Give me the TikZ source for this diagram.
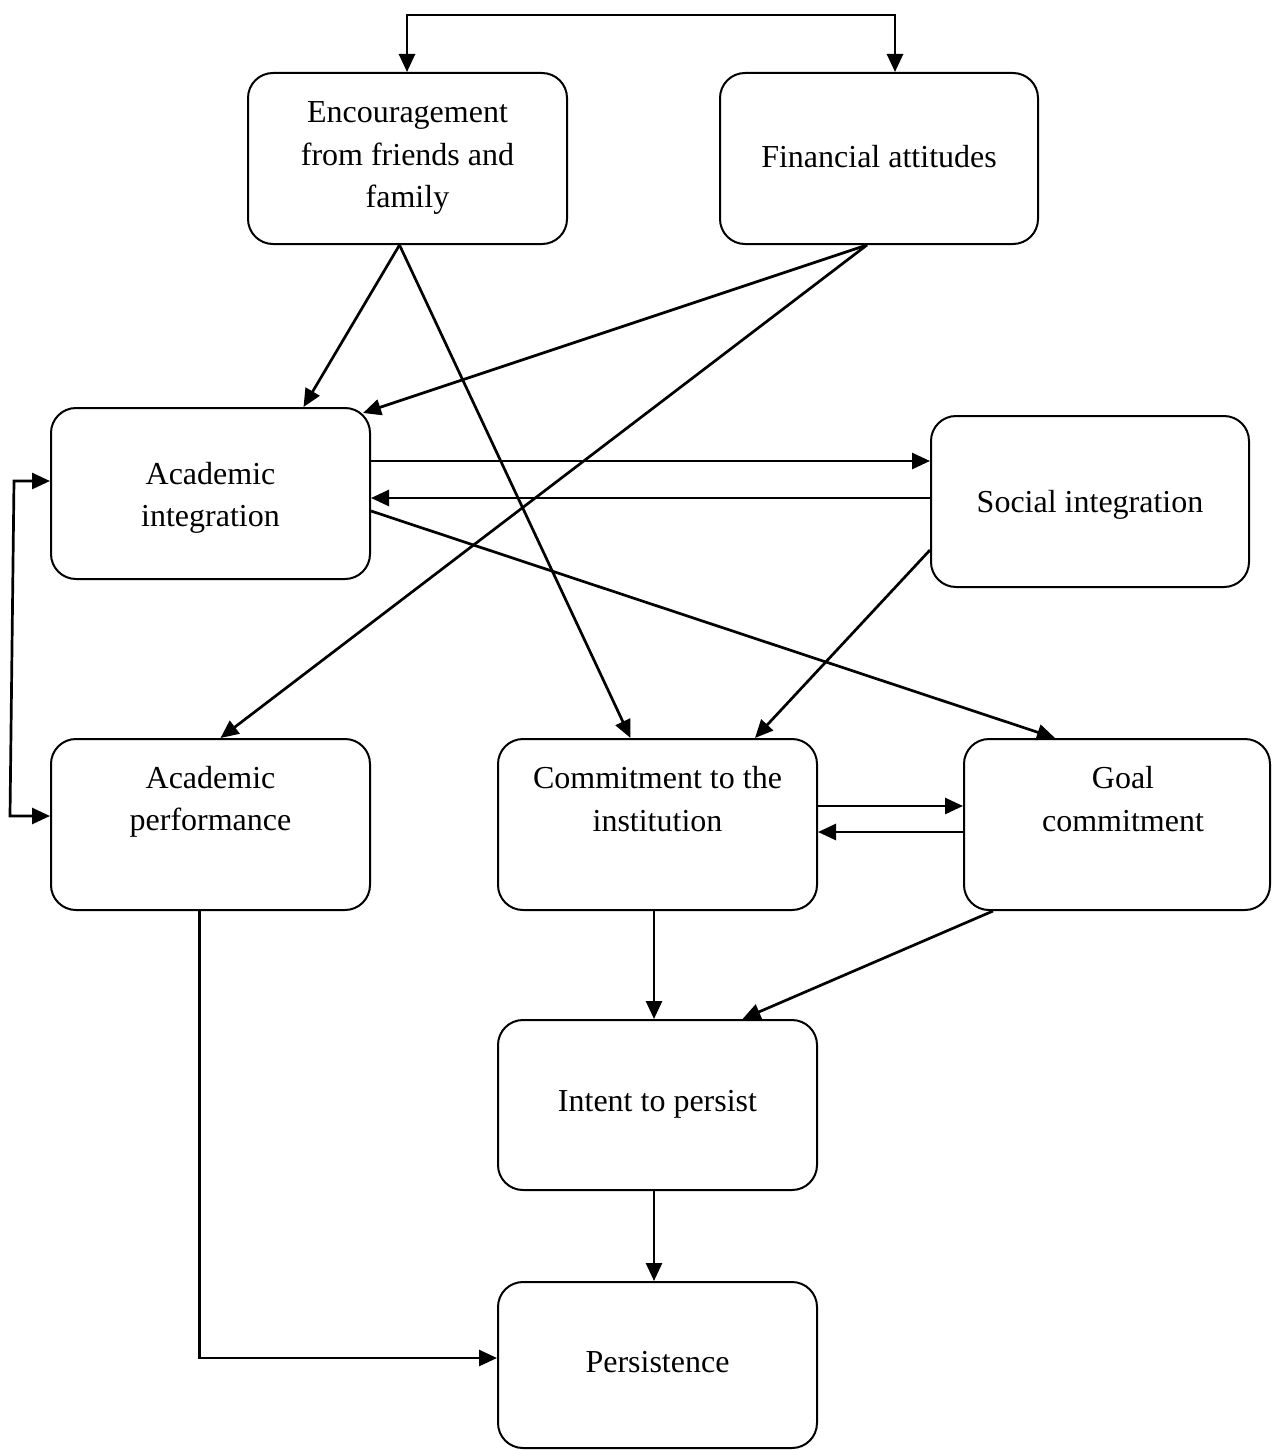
\documentclass[tikz,border=0pt]{standalone}
\usepackage{fontspec}
\setmainfont{Liberation Serif}
\usetikzlibrary{arrows.meta}
\begin{document}
\begin{tikzpicture}[x=1pt,y=-1pt,
  box/.style={draw, line width=2pt, rounded corners=25pt, minimum width=319pt,
    minimum height=171pt, inner sep=0pt},
  txt/.style={align=center, font=\fontsize{32}{42.5}\selectfont, inner sep=0pt},
  tip/.style={Triangle[length=18pt,width=16pt]},
  conn/.style={line width=2.7pt, -{Triangle[length=18pt,width=16pt]}},
  both/.style={line width=2.7pt, {Triangle[length=18pt,width=16pt]}-{Triangle[length=18pt,width=16pt]}}]
\useasboundingbox (0,0) rectangle (1271,1450);
\begin{scope}
\clip (0,0) rectangle (1271,1450);

% boxes
\node[box] (enc) at (407.5,158.5) {};
\node[txt] (enct) at (407.5,158) {Encouragement\\from friends and\\family};
\node[box, minimum width=318pt] (fin) at (879,158.5) {};
\node[txt] (fint) at (879,157) {Financial attitudes};
\node[box] (acint) at (210.5,493.5) {};
\node[txt] (acintt) at (210.5,498) {Academic\\integration};
\node[box, minimum width=318pt] (soc) at (1090,501.5) {};
\node[txt] (soct) at (1090,505) {Social integration};
\node[box] (acperf) at (210.5,824.5) {};
\node[txt] (acperft) at (210.5,802) {Academic\\performance};
\node[box] (comm) at (657.5,824.5) {};
\node[txt] (commt) at (657.5,799) {Commitment to the\\institution};
\node[box, minimum width=306pt] (goal) at (1117,824.5) {};
\node[txt] (goalt) at (1123,799) {Goal\\commitment};
\node[box, minimum height=170pt] (intent) at (657.5,1105) {};
\node[txt] (intentt) at (657.5,1104) {Intent to persist};
\node[box, minimum height=166pt] (pers) at (657.5,1365) {};
\node[txt] (perst) at (657.5,1362) {Persistence};

% top bracket between the two background factors
\coordinate (top) at (0,15);
\draw[both] ([xshift=-0.5pt]enc.north) -- ([xshift=-0.5pt]enc.north |- top)
  -| ([xshift=16pt]fin.north);

% left bracket between academic integration and performance
\coordinate (lbtop) at (14,481);
\coordinate (lbbot) at (10,816);
\draw[both] ([yshift=12.5pt]acint.west) -- (lbtop) -- (lbbot) -- ([yshift=8.5pt]acperf.west);

% background factors
\draw[conn] ([xshift=-8pt]enc.south) -- ([xshift=93pt]acint.north);
\draw[conn] ([xshift=-8pt]enc.south) -- ([xshift=-27pt]comm.north);
\draw[conn] ([xshift=-12pt]fin.south) -- ([xshift=-8pt,yshift=-6pt]acint.north east);
\draw[conn] ([xshift=-12pt]fin.south) -- ([xshift=10pt]acperf.north);

% integration
\draw[conn] ([yshift=32.5pt]acint.east) -- ([yshift=32.5pt]acint.east -| soc.west);
\draw[conn] ([yshift=-4.5pt]acint.east -| soc.west) -- ([yshift=-4.5pt]acint.east);
\draw[conn] ([yshift=-17.5pt]acint.east) -- ([xshift=-62pt]goal.north);
\draw[conn] ([yshift=-48.5pt]soc.west) -- ([xshift=97.5pt]comm.north);

% commitments
\draw[conn] ([yshift=18.5pt]comm.east) -- ([yshift=18.5pt]comm.east -| goal.west);
\draw[conn] ([yshift=-7.5pt]comm.east -| goal.west) -- ([yshift=-7.5pt]comm.east);
\draw[conn] ([xshift=-3.5pt]comm.south) -- ([xshift=-3.5pt]intent.north);
\draw[conn] ([xshift=-124pt]goal.south) -- ([xshift=85pt]intent.north);

% outcomes
\draw[conn] ([xshift=-3.5pt]intent.south) -- ([xshift=-3.5pt]pers.north);
\draw[conn] ([xshift=-11pt]acperf.south) |- ([yshift=7pt]pers.west);
\end{scope}
\end{tikzpicture}
\end{document}
